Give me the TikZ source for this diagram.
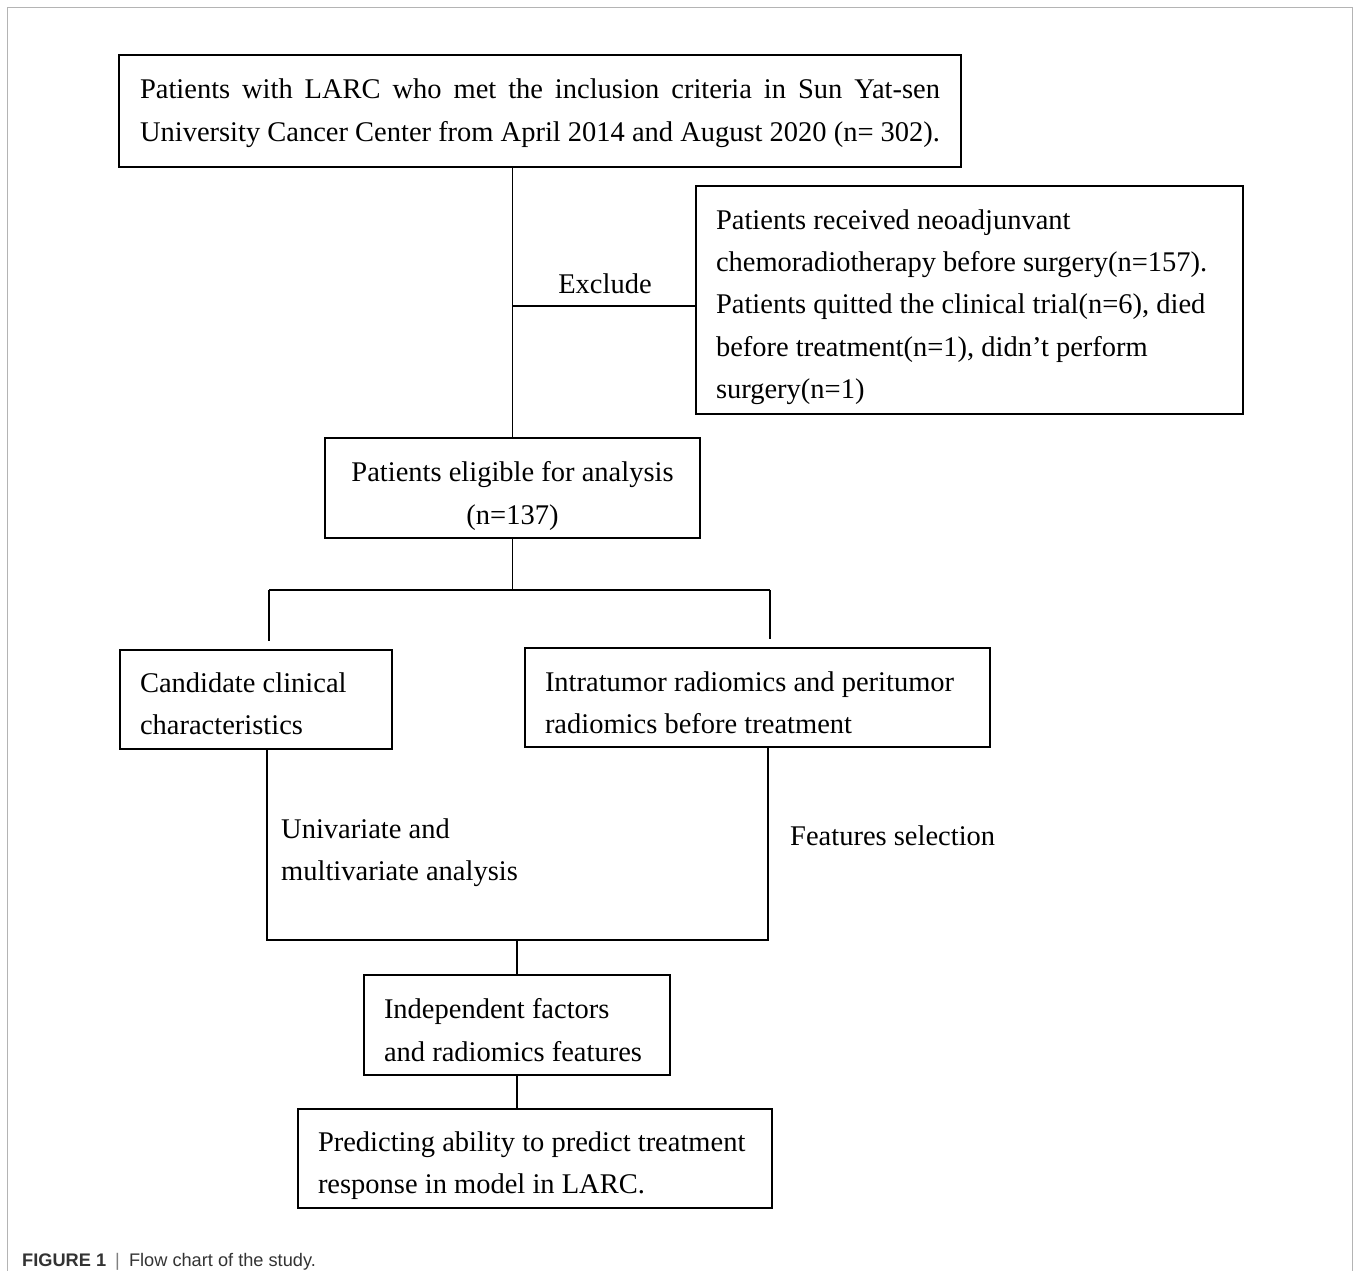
\documentclass[tikz,border=0pt]{standalone}
\usepackage{fontspec}
\setmainfont{Liberation Serif}
\newfontfamily\capfont{Liberation Sans}
\newcommand{\flowfont}{\fontsize{28.5}{42.3}\selectfont}
\newcommand{\padtop}[1]{\rule{0pt}{#1pt}}
\definecolor{framegray}{HTML}{B4B4B4}
\definecolor{capgray}{HTML}{333333}

\begin{document}
\begin{tikzpicture}[x=1pt, y={(0pt,-1pt)},
  box/.style={draw=black, line width=1.7pt, inner xsep=20pt, inner ysep=0pt, font=\flowfont, align=flush left},
  link/.style={black, line width=1.5pt},
  lbl/.style={font=\flowfont, inner sep=0pt, align=flush left}]
\useasboundingbox (0,0) rectangle (1354,1271);
\draw[framegray, line width=1.5pt] (7.5,1271) -- (7.5,7.5) -- (1352.5,7.5) -- (1352.5,1271);

\node[box, text width=800pt, minimum height=112pt, inner xsep=21pt, align=justify] (larc) at (540,111)
  {\padtop{24}Patients with LARC who met the inclusion criteria in Sun Yat-sen\linebreak University Cancer Center from April 2014 and August 2020 (n= 302).};
\node[box, text width=507pt, minimum height=228pt] (excl) at (969.5,300)
  {\padtop{34}Patients received neoadjunvant\\ chemoradiotherapy before surgery(n=157).\\ Patients quitted the clinical trial(n=6), died\\ before treatment(n=1), didn't perform\\ surgery(n=1)};
\node[box, text width=335pt, minimum height=100pt, align=flush center] (elig) at (512.5,488)
  {\padtop{36}Patients eligible for analysis\\ (n=137)};
\node[box, text width=232pt, minimum height=99pt] (cand) at (256,699.5)
  {\padtop{28}Candidate clinical\\ characteristics};
\node[box, text width=425pt, minimum height=99pt] (intra) at (757.5,697.5)
  {\padtop{30}Intratumor radiomics and peritumor\\ radiomics before treatment};
\node[box, text width=266pt, minimum height=100pt] (indep) at (517,1025)
  {\padtop{30}Independent factors\\ and radiomics features};
\node[box, text width=434pt, minimum height=99pt] (pred) at (535,1158.5)
  {\padtop{34}Predicting ability to predict treatment\\ response in model in LARC.};

\coordinate (excljoin) at ([yshift=-6pt]excl.west);
\coordinate (split) at (512.5,590);
\coordinate (splitl) at (269,590);
\coordinate (splitr) at (770,590);
\coordinate (mergel) at (267,940);
\coordinate (merger) at (768,940);

\draw[link] (elig.north) -- (elig.north |- larc.south);
\draw[link] (excljoin) -- (excljoin -| elig.north);
\draw[link] (elig.south) -- (split);
\draw[link] (splitl) -- (splitr);
\draw[link] (splitl) -- ([yshift=8pt]splitl |- cand.north);
\draw[link] (splitr) -- ([yshift=8pt]splitr |- intra.north);
\draw[link] (mergel |- cand.south) -- (mergel) -- (merger) -- (merger |- intra.south);
\draw[link] (indep.north) -- (indep.north |- mergel);
\draw[link] (indep.south) -- (indep.south |- pred.north);

\node[lbl, anchor=base] (exlbl) at (605,293) {Exclude};
\node[lbl, anchor=west] (unilbl) at (281,853) {Univariate and\\ multivariate analysis};
\node[lbl, anchor=west] (featlbl) at (790,836) {Features selection};

\node[anchor=base west, inner sep=0pt, text=capgray, font=\capfont\fontsize{18.2}{22}\selectfont] (caption) at (22,1266)
  {\textbf{FIGURE 1}\enspace{\color{gray}|}\enspace Flow chart of the study.};
\end{tikzpicture}
\end{document}
